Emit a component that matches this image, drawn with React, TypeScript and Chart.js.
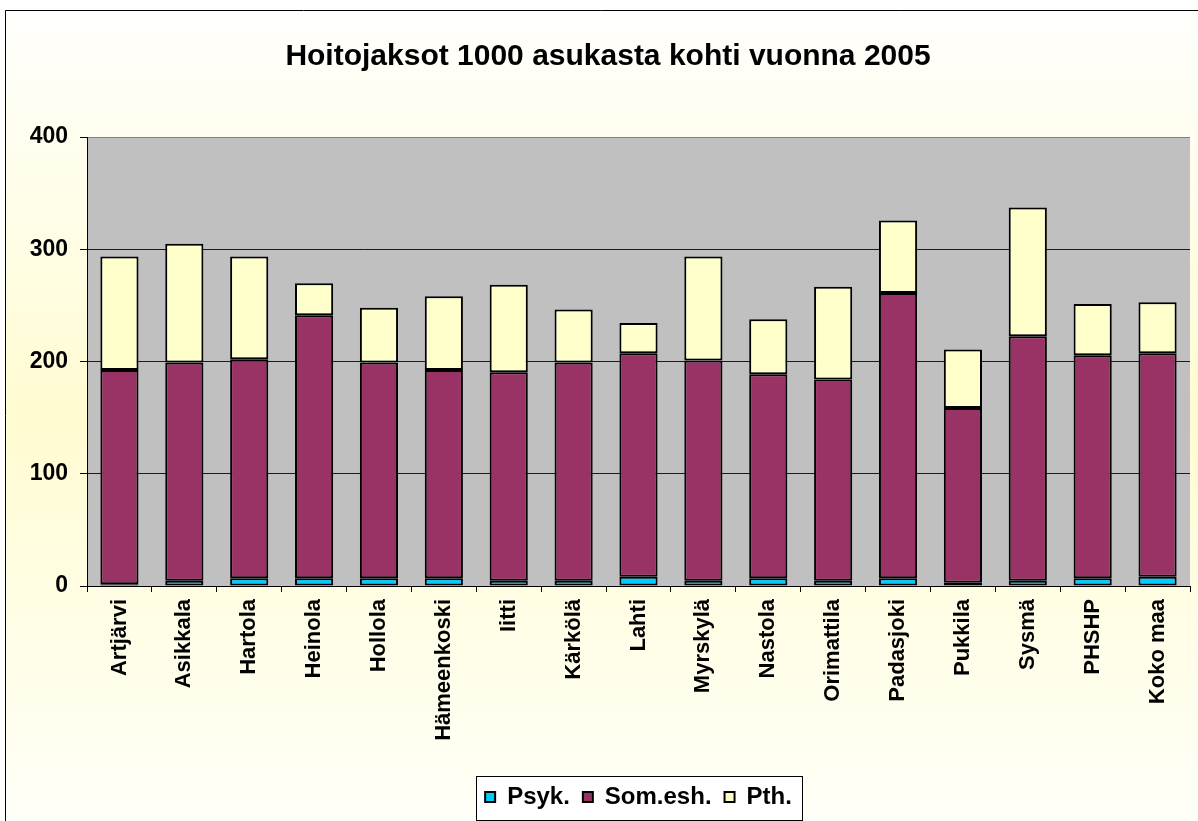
import React, { useEffect, useRef } from "react";
import { Chart, registerables } from "chart.js";

Chart.register(...registerables);

const chartTitle = "Hoitojaksot 1000 asukasta kohti vuonna 2005";

const categories = [
  "Artjärvi",
  "Asikkala",
  "Hartola",
  "Heinola",
  "Hollola",
  "Hämeenkoski",
  "Iitti",
  "Kärkölä",
  "Lahti",
  "Myrskylä",
  "Nastola",
  "Orimattila",
  "Padasjoki",
  "Pukkila",
  "Sysmä",
  "PHSHP",
  "Koko maa",
];

const psyk = [1.5, 4.7, 6.8, 6.8, 6.8, 6.8, 4.7, 4.7, 8.3, 4.7, 6.8, 4.7, 6.8, 2.9, 4.7, 6.8, 8.3];
const somEsh = [191.0, 194.3, 195.2, 234.4, 192.2, 185.7, 185.7, 194.3, 199.0, 196.1, 181.8, 179.2, 254.3, 155.7, 217.8, 198.7, 199.0];
const pth = [101.0, 105.8, 91.5, 28.5, 48.8, 65.6, 77.9, 47.3, 27.1, 92.7, 49.0, 82.6, 64.5, 52.0, 114.7, 45.8, 45.5];

const seriesNames = ["Psyk.", "Som.esh.", "Pth."];
const seriesColors = ["#00CCFF", "#993366", "#FFFFCC"];

const yTicks = [0, 100, 200, 300, 400];

const FONT = "'Liberation Sans', Arial, Helvetica, sans-serif";

const backgroundPlugin = {
  id: "excelBackground",
  beforeDraw(chart: any) {
    const { ctx, width, height, chartArea } = chart;
    ctx.save();
    ctx.fillStyle = "#FFFFFF";
    ctx.fillRect(0, 0, width, height);
    const g = ctx.createLinearGradient(0, 10, 0, height);
    g.addColorStop(0, "#FFFFFD");
    g.addColorStop(0.5, "#FFFCD2");
    g.addColorStop(1, "#FFFFF8");
    ctx.fillStyle = g;
    ctx.fillRect(5, 10, width - 5, height - 10);
    ctx.strokeStyle = "#000";
    ctx.lineWidth = 1;
    ctx.beginPath();
    ctx.moveTo(5.5, height);
    ctx.lineTo(5.5, 10.5);
    ctx.lineTo(width, 10.5);
    ctx.stroke();
    ctx.fillStyle = "#C0C0C0";
    ctx.fillRect(
      chartArea.left,
      chartArea.top,
      chartArea.right - chartArea.left,
      chartArea.bottom - chartArea.top
    );
    ctx.font = `bold 30px ${FONT}`;
    ctx.fillStyle = "#000";
    ctx.textAlign = "center";
    ctx.textBaseline = "alphabetic";
    ctx.fillText(chartTitle, 608, 65);

    const lg = chart.legend;
    if (lg && lg.legendHitBoxes && lg.legendHitBoxes.length) {
      const hb = lg.legendHitBoxes;
      const left = Math.min(...hb.map((h: any) => h.left)) - 9;
      const right = Math.max(...hb.map((h: any) => h.left + h.width)) + 10;
      ctx.fillStyle = "#FFFFFF";
      ctx.fillRect(Math.round(left), Math.round(lg.top + 4), Math.round(right - left), 44);
      ctx.strokeStyle = "#000";
      ctx.lineWidth = 1;
      ctx.strokeRect(Math.round(left) + 0.5, Math.round(lg.top + 4) + 0.5, Math.round(right - left), 44);
    }
    ctx.restore();
  },
};

export default function App() {
  const canvasRef = useRef<HTMLCanvasElement | null>(null);

  useEffect(() => {
    document.body.style.margin = "0";
    const canvas = canvasRef.current;
    if (!canvas) return;
    const values = [psyk, somEsh, pth];
    const chart = new Chart(canvas, {
      type: "bar",
      data: {
        labels: categories,
        datasets: seriesNames.map((name, i) => ({
          label: name,
          data: values[i],
          backgroundColor: seriesColors[i],
          borderColor: "#000000",
          borderWidth: 2,
          borderSkipped: false,
          barPercentage: 0.588,
          categoryPercentage: 1,
        })),
      },
      options: {
        responsive: false,
        maintainAspectRatio: false,
        animation: false,
        layout: { padding: { top: 137, left: 5, right: 8, bottom: 2 } },
        scales: {
          x: {
            stacked: true,
            grid: {
              display: true,
              drawOnChartArea: false,
              drawTicks: true,
              tickLength: 6,
              color: "#000",
              offset: true,
            },
            border: { display: true, color: "#000", width: 1 },
            ticks: {
              color: "#000",
              font: { family: FONT, size: 22, weight: "bold" },
              maxRotation: 90,
              minRotation: 90,
              autoSkip: false,
              padding: 7,
            },
            afterFit: (s: any) => {
              s.height = 186;
            },
          },
          y: {
            stacked: true,
            min: 0,
            max: 400,
            afterBuildTicks: (s: any) => {
              s.ticks = yTicks.map((v) => ({ value: v }));
            },
            ticks: {
              color: "#000",
              font: { family: FONT, size: 23, weight: "bold" },
              padding: 12,
            },
            grid: {
              color: (c: any) => (c.tick && c.tick.value === 400 ? "#808080" : "#1a1a1a"),
              tickColor: "#000",
              tickLength: 7,
              drawTicks: true,
              lineWidth: 1,
            },
            border: { display: true, color: "#000", width: 1 },
            afterFit: (s: any) => {
              s.width = 82;
            },
          },
        },
        plugins: {
          legend: {
            position: "bottom",
            fullSize: false,
            labels: {
              boxWidth: 10,
              boxHeight: 10,
              padding: 13,
              color: "#000",
              font: { family: FONT, size: 24, weight: "bold" },
            },
          },
          title: { display: false },
          tooltip: { enabled: false },
        },
      } as any,
      plugins: [backgroundPlugin],
    });
    return () => {
      chart.destroy();
    };
  }, []);

  return (
    <canvas
      ref={canvasRef}
      width={1198}
      height={821}
      style={{ display: "block", width: "1198px", height: "821px" }}
    />
  );
}
